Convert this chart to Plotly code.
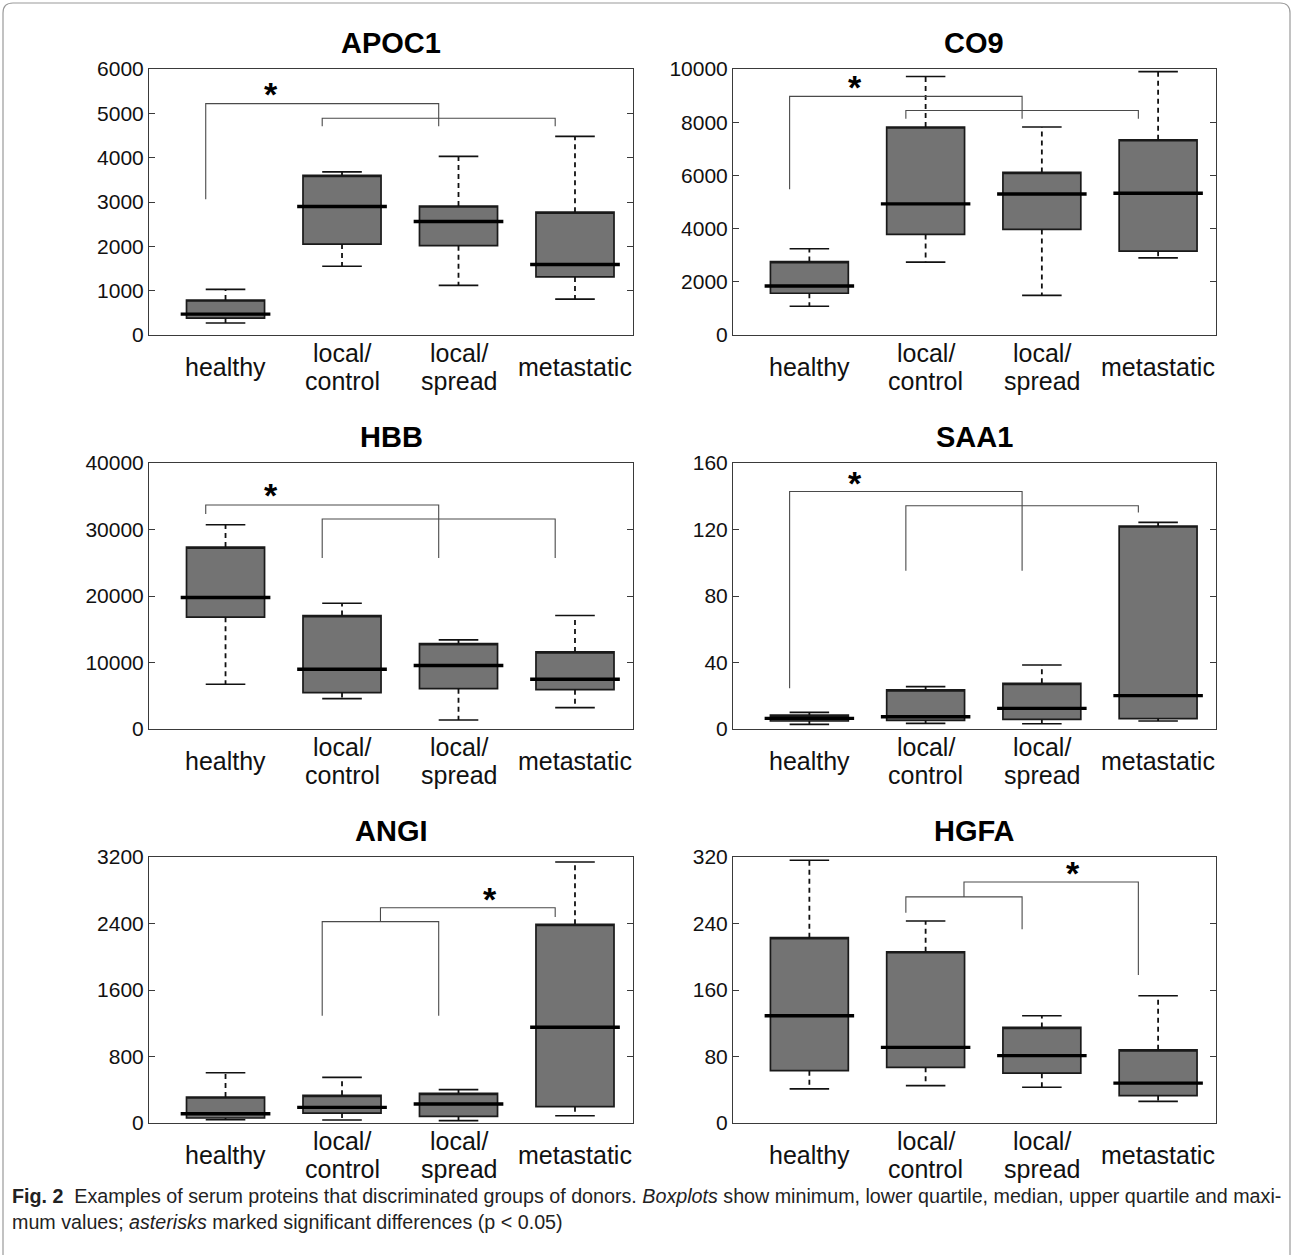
import plotly.graph_objects as go

# ---------------- data ----------------
categories = ["healthy", "local/<br>control", "local/<br>spread", "metastatic"]
cat_pos = [1, 2, 3, 4]

proteins = ["APOC1", "CO9", "HBB", "SAA1", "ANGI", "HGFA"]

# APOC1
apoc1_min = [270, 1550, 1120, 810]
apoc1_q1 = [380, 2050, 2015, 1310]
apoc1_med = [470, 2900, 2560, 1590]
apoc1_q3 = [790, 3600, 2910, 2770]
apoc1_max = [1030, 3680, 4030, 4480]
apoc1_ticks = [0, 1000, 2000, 3000, 4000, 5000, 6000]
apoc1_brackets = [(1, 3, 5220, 3060, 4710), (2, 4, 4890, 4710, 4710)]
apoc1_star = (1.39, 5530)

# CO9
co9_min = [1080, 2740, 1490, 2900]
co9_q1 = [1570, 3780, 3970, 3150]
co9_med = [1840, 4930, 5300, 5330]
co9_q3 = [2760, 7820, 6110, 7340]
co9_max = [3240, 9720, 7820, 9900]
co9_ticks = [0, 2000, 4000, 6000, 8000, 10000]
co9_brackets = [(1, 3, 8970, 5480, 8130), (2, 4, 8440, 8130, 8130)]
co9_star = (1.39, 9470)

# HBB
hbb_min = [6720, 4570, 1360, 3210]
hbb_q1 = [16810, 5470, 6070, 5920]
hbb_med = [19770, 8980, 9540, 7480]
hbb_q3 = [27350, 17060, 12850, 11590]
hbb_max = [30720, 18920, 13400, 17060]
hbb_ticks = [0, 10000, 20000, 30000, 40000]
hbb_brackets = [(1, 3, 33680, 32320, 25700), (2, 4, 31570, 25700, 25700)]
hbb_star = (1.39, 35730)

# SAA1
saa1_min = [2.8, 3.4, 3.2, 4.8]
saa1_q1 = [4.8, 5.2, 5.8, 6.2]
saa1_med = [6.4, 7.4, 12.4, 20.1]
saa1_q3 = [8.4, 23.5, 27.5, 122.1]
saa1_max = [10.0, 25.5, 38.5, 124.3]
saa1_ticks = [0, 40, 80, 120, 160]
saa1_brackets = [(1, 3, 142.9, 24.5, 95.2), (2, 4, 134.3, 95.2, 130.3)]
saa1_star = (1.39, 150.4)

# ANGI
angi_min = [40, 36, 28, 88]
angi_q1 = [60, 120, 80, 196]
angi_med = [112, 188, 229, 1151]
angi_q3 = [313, 333, 357, 2390]
angi_max = [605, 549, 401, 3140]
angi_ticks = [0, 800, 1600, 2400, 3200]
angi_brackets = [(2, 3, 2422, 1291, 1291), (2.5, 4, 2590, 2422, 2478)]
angi_star = (3.27, 2747)

# HGFA
hgfa_min = [41, 45, 43, 26]
hgfa_q1 = [63, 67, 60, 33]
hgfa_med = [129, 91, 81, 48]
hgfa_q3 = [223, 206, 115, 88]
hgfa_max = [316, 243, 129, 153]
hgfa_ticks = [0, 80, 160, 240, 320]
hgfa_brackets = [(2, 3, 272, 253, 233), (2.5, 4, 290, 272, 178)]
hgfa_star = (3.27, 305)

panels = [
    (apoc1_min, apoc1_q1, apoc1_med, apoc1_q3, apoc1_max, apoc1_ticks, apoc1_brackets, apoc1_star),
    (co9_min, co9_q1, co9_med, co9_q3, co9_max, co9_ticks, co9_brackets, co9_star),
    (hbb_min, hbb_q1, hbb_med, hbb_q3, hbb_max, hbb_ticks, hbb_brackets, hbb_star),
    (saa1_min, saa1_q1, saa1_med, saa1_q3, saa1_max, saa1_ticks, saa1_brackets, saa1_star),
    (angi_min, angi_q1, angi_med, angi_q3, angi_max, angi_ticks, angi_brackets, angi_star),
    (hgfa_min, hgfa_q1, hgfa_med, hgfa_q3, hgfa_max, hgfa_ticks, hgfa_brackets, hgfa_star),
]

caption_1 = ("<b>Fig. 2</b>&nbsp;&nbsp;Examples of serum proteins that discriminated groups of donors. "
             "<i>Boxplots</i> show minimum, lower quartile, median, upper quartile and maxi-")
caption_2 = "mum values; <i>asterisks</i> marked significant differences (p &lt; 0.05)"

# ---------------- layout geometry ----------------
W, H = 1293, 1255
col_px = [(149, 633), (733, 1216)]
row_px = [(69, 335), (463, 729), (857, 1123)]
X_RANGE = [0.343, 4.498]
BOX_W = 0.67
MED_HALF = 0.385
CAP_HALF = 0.17
BR_OFF = 0.17

FONT = "Liberation Sans, Arial, sans-serif"
AXC = "#3a3a3a"

fig = go.Figure()
annotations = []

for i, (mn, q1, med, q3, mx, ticks, brackets, star) in enumerate(panels):
    r, c = divmod(i, 2)
    n = i + 1
    xname = "x" if n == 1 else f"x{n}"
    yname = "y" if n == 1 else f"y{n}"
    x0, x1 = col_px[c]
    y0, y1 = row_px[r]
    xdom = [x0 / W, x1 / W]
    ydom = [1 - y1 / H, 1 - y0 / H]

    # box bodies
    fig.add_trace(go.Box(
        x=cat_pos, q1=q1, median=q3, q3=q3, lowerfence=q1, upperfence=q3,
        width=BOX_W, fillcolor="#737373", line=dict(color="#1a1a1a", width=1.7),
        boxpoints=False, showlegend=False, hoverinfo="skip",
        xaxis=xname, yaxis=yname))

    # whiskers (dashed) and caps
    wx, wy, cx, cy, mxs, mys = [], [], [], [], [], []
    for p, a, b, m, d, e in zip(cat_pos, mn, q1, med, q3, mx):
        wx += [p, p, None, p, p, None]
        wy += [d, e, None, b, a, None]
        cx += [p - CAP_HALF, p + CAP_HALF, None, p - CAP_HALF, p + CAP_HALF, None]
        cy += [e, e, None, a, a, None]
        mxs += [p - MED_HALF, p + MED_HALF, None]
        mys += [m, m, None]
    fig.add_trace(go.Scatter(x=wx, y=wy, mode="lines",
                             line=dict(color="#111", width=1.8, dash="5px,4px"),
                             showlegend=False, hoverinfo="skip", xaxis=xname, yaxis=yname))
    fig.add_trace(go.Scatter(x=cx, y=cy, mode="lines",
                             line=dict(color="#111", width=1.6),
                             showlegend=False, hoverinfo="skip", xaxis=xname, yaxis=yname))
    fig.add_trace(go.Scatter(x=mxs, y=mys, mode="lines",
                             line=dict(color="#000", width=3.4),
                             showlegend=False, hoverinfo="skip", xaxis=xname, yaxis=yname))

    # significance brackets
    bx, by = [], []
    for a, b, top, da, db in brackets:
        xa, xb = a - BR_OFF, b - BR_OFF
        bx += [xa, xa, xb, xb, None]
        by += [da, top, top, db, None]
    fig.add_trace(go.Scatter(x=bx, y=by, mode="lines",
                             line=dict(color="#4a4a4a", width=1.1),
                             showlegend=False, hoverinfo="skip", xaxis=xname, yaxis=yname))
    annotations.append(dict(x=star[0], y=star[1], xref=xname, yref=yname, text="*",
                            showarrow=False, yshift=-4,
                            font=dict(family=FONT, size=34, color="#000", weight="bold")))

    # axes
    fig.layout[f"xaxis{'' if n == 1 else n}"] = dict(
        domain=xdom, range=X_RANGE, anchor=yname, showline=True, mirror=True,
        linecolor=AXC, linewidth=1, ticks="", showticklabels=False, automargin=False,
        showgrid=False, zeroline=False, fixedrange=True)
    fig.layout[f"yaxis{'' if n == 1 else n}"] = dict(
        domain=ydom, range=[0, ticks[-1]], anchor=xname, tickvals=ticks,
        ticktext=[str(t) for t in ticks], ticks="inside", ticklen=6, tickcolor=AXC,
        showline=True, mirror="ticks", linecolor=AXC, linewidth=1, automargin=False,
        showgrid=False, zeroline=False, fixedrange=True,
        tickfont=dict(family=FONT, size=21, color="#111"))

    # title
    annotations.append(dict(x=(xdom[0] + xdom[1]) / 2, y=1 - (y0 - 26) / H,
                            xref="paper", yref="paper", text=f"<b>{proteins[i]}</b>",
                            showarrow=False, yanchor="middle", xanchor="center",
                            font=dict(family=FONT, size=29, color="#000")))

    # category labels
    for p, lab in zip(cat_pos, categories):
        lines = lab.split("<br>")
        k = len(lines)
        for j, ln in enumerate(lines):
            annotations.append(dict(x=p, y=ydom[0], xref=xname, yref="paper", text=ln,
                                    showarrow=False, yanchor="middle", xanchor="center",
                                    yshift=-(32 + (j - (k - 1) / 2) * 28),
                                    font=dict(family=FONT, size=25, color="#111")))

# caption
annotations.append(dict(x=10 / W, y=1 - 1196 / H, xref="paper", yref="paper", text=caption_1,
                        showarrow=False, xanchor="left", yanchor="middle",
                        font=dict(family=FONT, size=19.7, color="#222")))
annotations.append(dict(x=10 / W, y=1 - 1222 / H, xref="paper", yref="paper", text=caption_2,
                        showarrow=False, xanchor="left", yanchor="middle",
                        font=dict(family=FONT, size=19.7, color="#222")))

# outer rounded frame
fx0, fx1 = 3 / W, 1290 / W
fyt, fyb = 1 - 3 / H, -0.01
rx, ry = 10 / W, 10 / H
frame_path = (f"M {fx0},{fyb} L {fx0},{fyt - ry} Q {fx0},{fyt} {fx0 + rx},{fyt} "
              f"L {fx1 - rx},{fyt} Q {fx1},{fyt} {fx1},{fyt - ry} L {fx1},{fyb}")

fig.update_layout(
    width=W, height=H, margin=dict(l=0, r=0, t=0, b=0, pad=0, autoexpand=False),
    paper_bgcolor="white", plot_bgcolor="white",
    showlegend=False, annotations=annotations,
    shapes=[dict(type="path", path=frame_path, xref="paper", yref="paper",
                 line=dict(color="#9a9a9a", width=1.2))],
    font=dict(family=FONT),
)

page_fix = (
    "document.documentElement.style.overflow='hidden';"
    "document.body.style.margin='0';document.body.style.padding='0';"
    "document.body.style.overflow='hidden';"
)

fig.write_html("out.html", config={"displayModeBar": False}, post_script=page_fix)
